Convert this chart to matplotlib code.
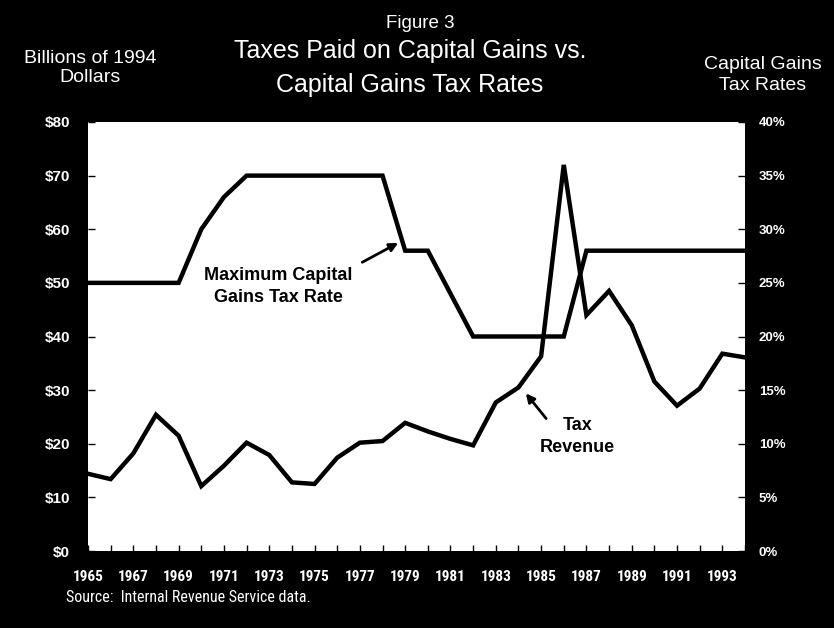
import matplotlib
matplotlib.use("Agg")
import matplotlib.pyplot as plt
from matplotlib import font_manager
from matplotlib.ticker import FixedLocator

# Series
years = list(range(1965, 1995))
tax_revenue = [14.4, 13.4, 18.2, 25.4, 21.5, 12.1, 15.9, 20.2, 17.9, 12.8,
               12.5, 17.4, 20.2, 20.5, 23.9, 22.3, 20.9, 19.7, 27.7, 30.5,
               36.3, 72.0, 44.0, 48.5, 42.1, 31.6, 27.1, 30.3, 36.8, 36.1]
max_rate = [25, 25, 25, 25, 25, 30, 33, 35, 35, 35,
            35, 35, 35, 35, 28, 28, 24, 20, 20, 20,
            20, 20, 28, 28, 28, 28, 28, 28, 28, 28]

dollar_ticks = [0, 10, 20, 30, 40, 50, 60, 70, 80]
dollar_labels = ["$0", "$10", "$20", "$30", "$40", "$50", "$60", "$70", "$80"]
rate_ticks = [0, 5, 10, 15, 20, 25, 30, 35, 40]
rate_labels = ["0%", "5%", "10%", "15%", "20%", "25%", "30%", "35%", "40%"]
year_labels = list(range(1965, 1994, 2))

# Prefer a condensed face for the year axis and source line if one is installed
installed = {f.name for f in font_manager.fontManager.ttflist}
narrow_candidates = ["Liberation Sans Narrow", "DejaVu Sans Condensed",
                     "Roboto Condensed", "Open Sans Condensed"]
NARROW = [n for n in narrow_candidates if n in installed] + ["Liberation Sans", "DejaVu Sans"]
SANS = ["Liberation Sans", "DejaVu Sans"]

fig = plt.figure(figsize=(8.34, 6.28), dpi=100, facecolor="black")
ax = fig.add_axes([88 / 834, 1 - 551 / 628, (745 - 88) / 834, (551 - 122) / 628])
ax.set_facecolor("white")
ax2 = ax.twinx()

ax.plot(years, tax_revenue, color="black", lw=3.2, solid_joinstyle="miter")
ax2.plot(years, max_rate, color="black", lw=3.2, solid_joinstyle="miter")

ax.set_xlim(1965, 1994)
ax.set_ylim(0, 80)
ax2.set_ylim(0, 40)

for a in (ax, ax2):
    for s in a.spines.values():
        s.set_visible(False)

ax.set_yticks(dollar_ticks)
ax.set_yticklabels(dollar_labels)
ax2.set_yticks(rate_ticks)
ax2.set_yticklabels(rate_labels)
ax.xaxis.set_major_locator(FixedLocator(year_labels))
ax.set_xticklabels([str(y) for y in year_labels])
ax.xaxis.set_minor_locator(FixedLocator([y for y in years if y not in year_labels]))

ax.tick_params(axis="y", direction="in", length=5, width=1, color="black",
               labelcolor="white", pad=13)
ax2.tick_params(axis="y", direction="in", length=5, width=1, color="black",
                labelcolor="white", pad=10)
ax.tick_params(axis="x", which="both", direction="in", length=4, width=1,
               color="black", labelcolor="white", pad=14)

for lab in ax.get_yticklabels():
    lab.set_family(SANS)
    lab.set_fontweight("bold")
    lab.set_fontsize(11)
for lab in ax2.get_yticklabels():
    lab.set_family(SANS)
    lab.set_fontweight("bold")
    lab.set_fontsize(9.5)
for lab in ax.get_xticklabels():
    lab.set_family(NARROW)
    lab.set_fontweight("bold")
    lab.set_fontsize(11)

# Header texts
fig.text(420 / 834, 1 - 24 / 628, "Figure 3", color="white", ha="center",
         va="center", family=SANS, fontsize=13.5)
fig.text(410 / 834, 1 - 51 / 628, "Taxes Paid on Capital Gains vs.",
         color="white", ha="center", va="center", family=SANS, fontsize=18)
fig.text(410 / 834, 1 - 85 / 628, "Capital Gains Tax Rates",
         color="white", ha="center", va="center", family=SANS, fontsize=18)
fig.text(90 / 834, 1 - 68 / 628, "Billions of 1994\nDollars", color="white",
         ha="center", va="center", family=SANS, fontsize=14, linespacing=1.16)
fig.text(763 / 834, 1 - 75 / 628, "Capital Gains\nTax Rates", color="white",
         ha="center", va="center", family=SANS, fontsize=14, linespacing=1.3)
fig.text(66 / 834, 1 - 597 / 628, "Source:  Internal Revenue Service data.",
         color="white", ha="left", va="center", family=NARROW, fontsize=11.5)

# Line labels with arrows
ax.text(1973.4, 49.3, "Maximum Capital\nGains Tax Rate", ha="center",
        va="center", family=SANS, fontweight="bold", fontsize=13,
        linespacing=1.39, color="black")
ax.annotate("", xy=(1978.8, 57.7), xytext=(1977.0, 53.6),
            arrowprops=dict(arrowstyle="-|>,head_length=0.5,head_width=0.25",
                            color="black", lw=2))
ax.text(1986.6, 21.4, "Tax\nRevenue", ha="center", va="center", family=SANS,
        fontweight="bold", fontsize=13, linespacing=1.38, color="black")
ax.annotate("", xy=(1984.25, 29.8), xytext=(1985.3, 24.3),
            arrowprops=dict(arrowstyle="-|>,head_length=0.5,head_width=0.25",
                            color="black", lw=2))

fig.savefig("out.png", dpi=100, facecolor="black")
